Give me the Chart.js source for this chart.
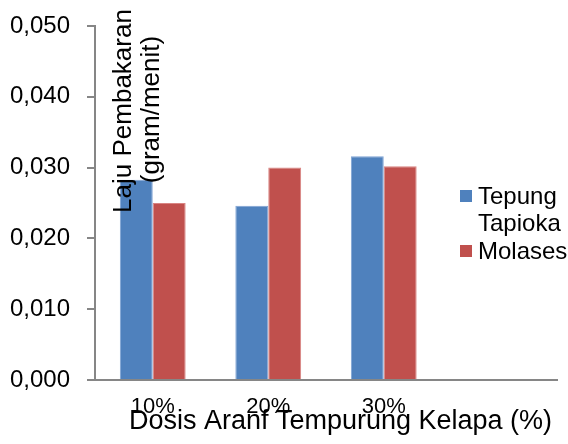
<!DOCTYPE html>
<html>
<head>
<meta charset="utf-8">
<script src="https://cdn.jsdelivr.net/npm/chart.js@4"></script>
<style>
    body { margin: 0; background: #fff; }
</style>
</head>
<body>
<canvas id="chart" width="568" height="444"></canvas>
<script>
const categories = ['10%', '20%', '30%', ''];
const tepungTapioka = [0.0283, 0.0246, 0.0316, null];
const molases = [0.0250, 0.0300, 0.0302, null];
const seriesNames = [['Tepung', 'Tapioka'], ['Molases']];
const yTitle = ['Laju Pembakaran', '(gram/menit)'];
const xTitle = 'Dosis Aranf Tempurung Kelapa (%)';

const SANS = "'Liberation Sans', Arial, sans-serif";
const axisGray = '#868686';

// titles and legend sit on top of the plot in the original, so draw them by hand
const overlayPlugin = {
    id: 'overlay',
    afterDraw(chart) {
        const ctx = chart.ctx;
        ctx.save();
        ctx.fillStyle = '#000';
        ctx.font = '26px ' + SANS;
        ctx.textAlign = 'center';
        ctx.textBaseline = 'alphabetic';

        // y title, rotated
        ctx.save();
        ctx.translate(0, 111);
        ctx.rotate(-Math.PI / 2);
        ctx.fillText(yTitle[0], 0, 130.5);
        ctx.fillText(yTitle[1], 1.5, 159);
        ctx.restore();

        // x title
        ctx.font = '27px ' + SANS;
        ctx.fillText(xTitle, 340.5, 429);

        // legend
        ctx.font = '24px ' + SANS;
        ctx.textAlign = 'left';
        const baselines = [[204, 231], [259]];
        chart.data.datasets.forEach((ds, i) => {
            const lines = seriesNames[i];
            ctx.fillStyle = ds.backgroundColor;
            ctx.fillRect(460, baselines[i][0] - 14, 12, 12);
            ctx.fillStyle = '#000';
            lines.forEach((line, j) => ctx.fillText(line, 478, baselines[i][j]));
        });
        ctx.restore();
    }
};

new Chart(document.getElementById('chart'), {
    type: 'bar',
    data: {
        labels: categories,
        datasets: [
            {
                label: 'Tepung Tapioka',
                data: tepungTapioka,
                backgroundColor: '#4F81BD',
                borderColor: '#7FA3D4',
                borderWidth: 1
            },
            {
                label: 'Molases',
                data: molases,
                backgroundColor: '#C0504D',
                borderColor: '#D98482',
                borderWidth: 1
            }
        ]
    },
    options: {
        responsive: false,
        animation: false,
        devicePixelRatio: 1,
        layout: { padding: { top: 26, right: 11, left: 0, bottom: 0 } },
        plugins: {
            legend: { display: false },
            title: { display: false },
            tooltip: { enabled: false }
        },
        datasets: {
            bar: { barPercentage: 1, categoryPercentage: 0.57 }
        },
        scales: {
            x: {
                grid: { display: false, drawTicks: false },
                border: { color: axisGray, width: 2 },
                ticks: {
                    color: '#000',
                    font: { family: SANS, size: 22 },
                    padding: 14,
                    maxRotation: 0
                },
                afterFit(scale) { scale.height = 64; }
            },
            y: {
                min: 0,
                max: 0.05,
                grid: {
                    drawOnChartArea: false,
                    drawTicks: true,
                    tickLength: 8,
                    color: axisGray,
                    lineWidth: 2
                },
                border: { color: axisGray, width: 2 },
                ticks: {
                    stepSize: 0.01,
                    color: '#000',
                    font: { family: SANS, size: 24 },
                    padding: 17,
                    callback: v => v.toFixed(3).replace('.', ',')
                },
                afterFit(scale) {
                    scale.width = 95;
                    // keep the label half-heights from pushing the plot top down
                    scale.paddingTop = 0;
                    scale.paddingBottom = 0;
                }
            }
        }
    },
    plugins: [overlayPlugin]
});
</script>
</body>
</html>
